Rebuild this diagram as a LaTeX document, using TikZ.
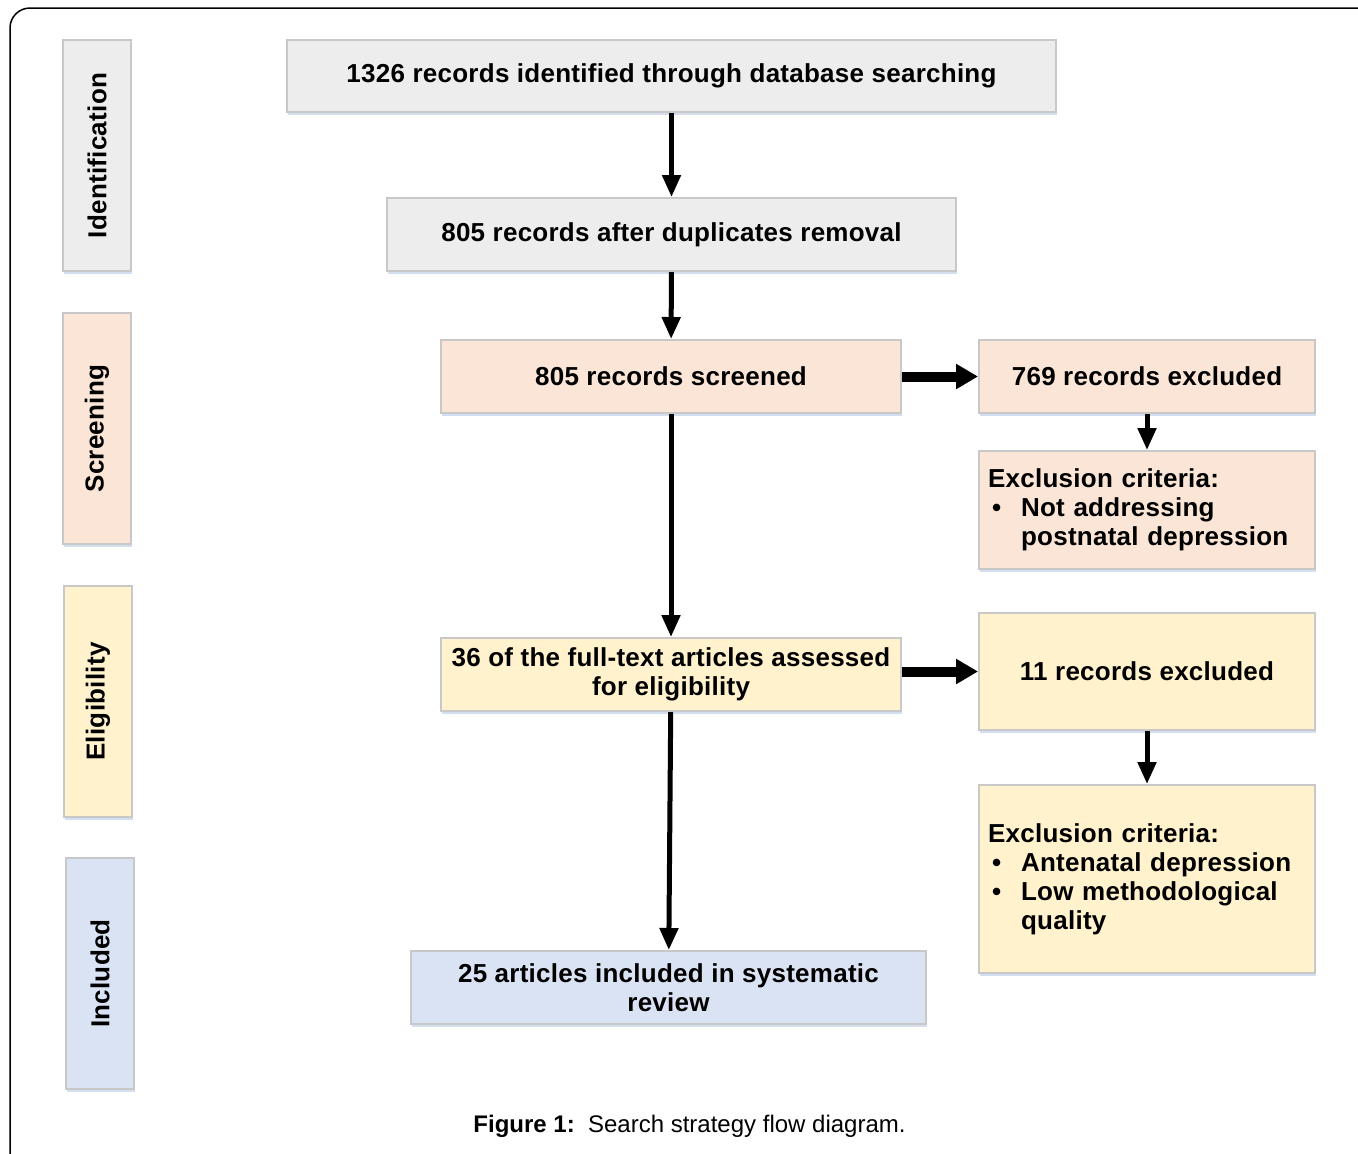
\documentclass[tikz,border=0pt]{standalone}
\usepackage{fontspec}
\setmainfont{Liberation Sans}
\newfontfamily\stagefont[LetterSpace=1.0]{Liberation Sans}
\usetikzlibrary{arrows.meta,shadows}

\definecolor{idgray}{RGB}{237,237,237}
\definecolor{scrpeach}{RGB}{251,229,214}
\definecolor{elgyellow}{RGB}{255,242,204}
\definecolor{incblue}{RGB}{218,227,243}
\definecolor{boxline}{RGB}{200,200,200}
\definecolor{shadowblue}{RGB}{200,215,238}

\begin{document}
\begin{tikzpicture}[x=0.5pt,y=-0.5pt,
		font=\stagefont\fontsize{13}{14.5}\selectfont\bfseries,
		stage/.style={draw=boxline, line width=1pt, inner sep=0pt, align=center,
			minimum height=36.5pt,
			drop shadow={shadow xshift=0.6pt, shadow yshift=-1.4pt, fill=shadowblue, opacity=0.8}},
		phase/.style={stage, rotate=90, minimum width=115.5pt, minimum height=34pt},
		crit/.style={stage, align=left, text width=159pt, inner xsep=4.5pt},
		down/.style={-{Triangle[length=11pt,width=9pt]}, line width=2.5pt},
		across/.style={-{Triangle[length=11pt,width=12pt]}, line width=5pt}
	]
	\useasboundingbox (0,0) rectangle (1358,1153);
	\draw[line width=0.75pt, rounded corners=10pt] (10,1200) |- (1400,8);

	% phases
	\node[phase, fill=idgray] (ident) at (97,155.5) {Identification};
	\node[phase, fill=scrpeach] (screen) at (97,428.5) {Screening};
	\node[phase, fill=elgyellow] (elig) at (98,701.5) {Eligibility};
	\node[phase, fill=incblue] (incl) at (100,973.5) {Included};

	% main flow
	\node[stage, fill=idgray, minimum width=384.5pt, minimum height=36pt] (found) at (671.5,76)
		{1326 records identified through database searching};
	\node[stage, fill=idgray, minimum width=284.5pt] (dedup) at (671.5,234.5)
		{805 records after duplicates removal};
	\node[stage, fill=scrpeach, minimum width=230pt] (screened) at (671,376.5)
		{805 records screened};
	\node[stage, fill=elgyellow, minimum width=230pt] (fulltext) at (671,674.5)
		{36 of the full-text articles assessed\\for eligibility};
	\node[stage, fill=incblue, minimum width=257.5pt] (review) at (668.5,987.5)
		{25 articles included in systematic\\review};

	% exclusions
	\node[stage, fill=scrpeach, minimum width=168pt] (excla) at (1147,376.5)
		{769 records excluded};
	\node[crit, fill=scrpeach, minimum height=59pt] (crita) at (1147,510)
		{Exclusion criteria:\\
		\makebox[16.5pt][l]{\hspace{2pt}\textbullet}Not addressing\\
		\hspace*{16.5pt}postnatal depression};
	\node[stage, fill=elgyellow, minimum width=168pt, minimum height=58.5pt] (exclb) at (1147,671.5)
		{11 records excluded};
	\node[crit, fill=elgyellow, minimum height=94pt] (critb) at (1147,879)
		{Exclusion criteria:\\
		\makebox[16.5pt][l]{\hspace{2pt}\textbullet}Antenatal depression\\
		\makebox[16.5pt][l]{\hspace{2pt}\textbullet}Low methodological\\
		\hspace*{16.5pt}quality};

	\node[font=\rmfamily\fontsize{12}{14}\selectfont] (caption) at (689.5,1126)
		{\textbf{Figure 1:}\ \ Search strategy flow diagram.};

	\draw[down] (found) -- (dedup);
	\draw[down] (dedup) -- (screened);
	\draw[down] (screened) -- (fulltext);
	\draw[down] (fulltext) -- (review);
	\draw[down] (excla) -- (crita);
	\draw[down] (exclb) -- (critb);
	\draw[across] (screened) -- (excla);
	\draw[across] (fulltext.east |- exclb.west) -- (exclb.west);
\end{tikzpicture}
\end{document}
